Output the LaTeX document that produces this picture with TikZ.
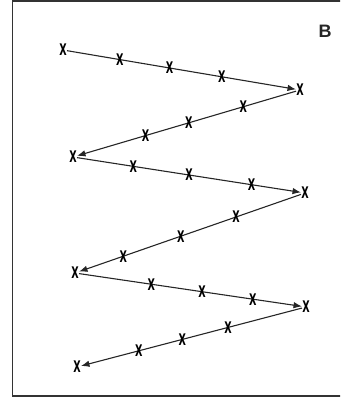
\documentclass[tikz,border=0pt]{standalone}
\usepackage{fontspec}
\setmainfont{Liberation Sans}
\newfontfamily\markfont{DejaVu Sans}
\usetikzlibrary{arrows.meta,calc}
\tikzset{
  xmark/.style={inner sep=0pt, outer sep=0.3pt, font=\markfont\bfseries\fontsize{16}{16}\selectfont, text=black},
  zig/.style={line width=1.1pt, draw=black!85, -{Latex[length=8.5pt,width=6.5pt]}},
  frame/.style={line width=1.5pt, draw=black!80},
}
\newcommand{\xm}{\scalebox{0.6}[1]{X}}
\begin{document}
\begin{tikzpicture}[x=1pt,y=-1pt]
\useasboundingbox (0,0) rectangle (340,398);
\begin{scope}
\clip (0,0) rectangle (340,398);
\draw[frame] (12.5,1) rectangle (350,396);
\end{scope}
\node[font=\bfseries\fontsize{18}{18}\selectfont, text=black!85] (lab) at (325,31) {B};
% turning points
\node[xmark] (p0) at (63,50) {\xm};
\node[xmark] (p1) at (300,90) {\xm};
\node[xmark] (p2) at (73,157) {\xm};
\node[xmark] (p3) at (305,193) {\xm};
\node[xmark] (p4) at (75,273) {\xm};
\node[xmark] (p5) at (306,307) {\xm};
\node[xmark] (p6) at (77,367) {\xm};
% connectors
\draw[zig] (p0) -- (p1);
\draw[zig] (p1) -- (p2);
\draw[zig] (p2) -- (p3);
\draw[zig] (p3) -- (p4);
\draw[zig] (p4) -- (p5);
\draw[zig] (p5) -- (p6);
% intermediate marks
\foreach \t [count=\i] in {0.24,0.45,0.67} \node[xmark] (a\i) at ($(p0)!\t!(p1)$) {\xm};
\foreach \t [count=\i] in {0.25,0.49,0.68} \node[xmark] (b\i) at ($(p1)!\t!(p2)$) {\xm};
\foreach \t [count=\i] in {0.26,0.50,0.77} \node[xmark] (c\i) at ($(p2)!\t!(p3)$) {\xm};
\foreach \t [count=\i] in {0.30,0.54,0.79} \node[xmark] (d\i) at ($(p3)!\t!(p4)$) {\xm};
\foreach \t [count=\i] in {0.33,0.55,0.77} \node[xmark] (e\i) at ($(p4)!\t!(p5)$) {\xm};
\foreach \t [count=\i] in {0.34,0.54,0.73} \node[xmark] (f\i) at ($(p5)!\t!(p6)$) {\xm};
\end{tikzpicture}
\end{document}
